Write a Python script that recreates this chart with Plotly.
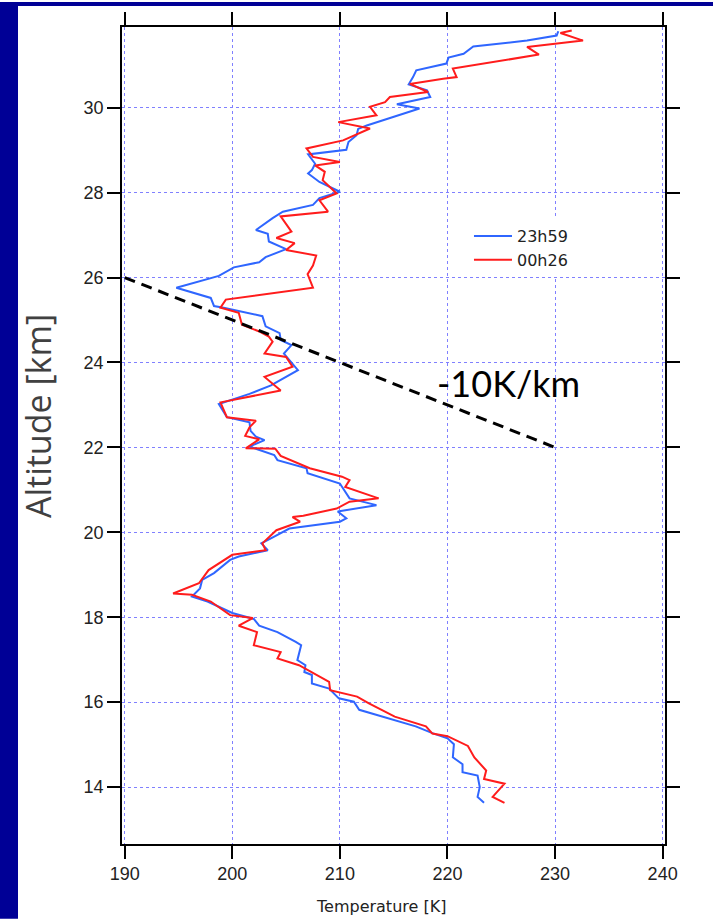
import plotly.graph_objects as go

# ---- data ----
blue_alt = [31.80, 31.70, 31.58, 31.44, 31.27, 31.18, 31.04, 30.88, 30.72, 30.55, 30.41, 30.25, 30.08, 29.98,
            29.58, 29.50, 29.35, 29.19, 29.01, 28.90, 28.68, 28.53, 28.45, 28.25, 28.02, 27.87, 27.71, 27.55,
            27.40, 27.12, 27.03, 26.85, 26.67, 26.48, 26.36, 26.24, 26.04, 25.76, 25.52, 25.33, 25.29, 25.09,
            24.85, 24.69, 24.53, 24.41, 24.21, 23.82, 23.46, 23.26, 23.02, 22.71, 22.59, 22.39, 22.25, 22.17,
            22.02, 21.82, 21.70, 21.51, 21.39, 21.15, 20.80, 20.64, 20.49, 20.33, 20.25, 20.09, 19.90, 19.74,
            19.58, 19.43, 19.35, 19.04, 18.88, 18.68, 18.49, 18.37, 18.10, 17.96, 17.80, 17.65, 17.42, 17.34,
            16.99, 16.87, 16.71, 16.64, 16.44, 16.32, 16.09, 16.01, 15.82, 15.66, 15.43, 15.27, 15.15, 15.01,
            14.70, 14.54, 14.35, 14.27, 14.00, 13.77, 13.63]
blue_temp = [230.3, 230.15, 227.4, 222.4, 221.5, 220.1, 219.9, 217.1, 216.8, 216.4, 218.1, 218.4, 215.3, 217.4,
             212.5, 211.7, 211.55, 210.8, 210.6, 207.05, 207.7, 207.4, 207.05, 208.1, 210.0, 208.1, 207.5, 204.7,
             203.75, 202.2, 203.3, 203.4, 205.0, 203.1, 202.5, 200.15, 198.75, 194.8, 198.0, 198.3, 199.2, 202.8,
             203.1, 204.4, 204.5, 205.5, 204.8, 206.1, 203.6, 201.6, 198.75, 199.5, 201.6, 201.7, 202.2, 203.0,
             201.6, 203.9, 204.2, 206.9, 207.0, 210.0, 210.9, 213.4, 209.8, 210.6, 210.0, 205.3, 203.9, 202.7,
             203.3, 200.6, 199.8, 198.3, 197.2, 197.0, 196.25, 197.7, 200.0, 202.0, 202.5, 204.2, 205.9, 206.4,
             206.05, 206.8, 206.7, 207.4, 207.4, 209.0, 209.9, 211.3, 211.8, 214.0, 217.05, 218.6, 220.0, 220.6,
             220.5, 221.4, 221.4, 222.8, 223.0, 222.8, 223.4]

red_alt = [31.82, 31.76, 31.58, 31.43, 31.25, 30.92, 30.72, 30.68, 30.56, 30.37, 30.25, 30.13, 30.02, 29.82,
           29.66, 29.51, 29.23, 29.04, 28.84, 28.72, 28.64, 28.49, 28.29, 28.05, 27.98, 27.82, 27.55, 27.44,
           27.08, 26.93, 26.81, 26.65, 26.52, 26.28, 26.08, 25.76, 25.48, 25.29, 25.17, 24.89, 24.73, 24.61,
           24.49, 24.21, 24.13, 23.90, 23.66, 23.34, 23.06, 22.71, 22.63, 22.47, 22.27, 22.19, 21.98, 21.97,
           21.80, 21.51, 21.31, 21.23, 21.07, 20.80, 20.72, 20.56, 20.39, 20.36, 20.25, 20.05, 19.74, 19.58,
           19.47, 19.11, 18.80, 18.56, 18.53, 18.37, 18.05, 17.98, 17.80, 17.65, 17.34, 17.18, 17.03, 16.87,
           16.48, 16.28, 16.13, 15.97, 15.66, 15.43, 15.26, 15.20, 15.11, 14.97, 14.70, 14.39, 14.19, 14.08,
           13.77, 13.63]
red_temp = [231.55, 230.5, 232.6, 227.4, 228.5, 220.5, 220.85, 219.6, 216.5, 218.2, 214.65, 214.2, 212.8, 213.4,
            209.85, 212.8, 210.3, 206.9, 207.5, 210.0, 207.7, 208.6, 208.4, 209.4, 209.7, 208.1, 208.9, 204.5,
            205.5, 204.1, 205.8, 205.0, 207.8, 207.5, 207.0, 207.5, 199.4, 198.9, 200.6, 200.9, 202.5, 203.4,
            203.75, 203.0, 205.0, 205.6, 203.0, 204.5, 198.9, 199.5, 202.2, 201.6, 201.2, 202.5, 201.25, 204.0,
            204.5, 207.2, 210.2, 210.9, 210.5, 213.6, 210.9, 209.7, 206.6, 205.6, 206.3, 204.1, 202.8, 203.1,
            200.0, 197.8, 196.9, 194.5, 196.25, 198.0, 199.8, 201.9, 200.6, 202.3, 202.0, 204.5, 204.2, 206.2,
            209.0, 209.1, 211.6, 212.7, 215.1, 218.0, 218.6, 220.0, 220.8, 221.9, 222.5, 223.6, 223.4, 225.3,
            224.2, 225.3]

lapse_temp = [190, 230]
lapse_alt = [26, 22]

x_ticks = [190, 200, 210, 220, 230, 240]
y_ticks = [14, 16, 18, 20, 22, 24, 26, 28, 30]

series_names = ["23h59", "00h26"]

fig = go.Figure()
fig.add_trace(go.Scatter(x=blue_temp, y=blue_alt, mode="lines", name=series_names[0],
                         line=dict(color="#2f66ff", width=2)))
fig.add_trace(go.Scatter(x=red_temp, y=red_alt, mode="lines", name=series_names[1],
                         line=dict(color="#ff1c1c", width=2)))
fig.add_trace(go.Scatter(x=lapse_temp, y=lapse_alt, mode="lines", showlegend=False,
                         line=dict(color="black", width=3, dash="11px,7px")))

fig.add_annotation(x=225.7, y=23.52, xref="x", yref="y", text="-10K/km", showarrow=False,
                   font=dict(family="Lato", size=36, color="black"))

# axis titles
fig.add_annotation(x=(381 - 122) / 543, y=-(907 - 844) / 819, xref="paper", yref="paper",
                   text="Temperature [K]", showarrow=False, xanchor="center", yanchor="middle",
                   font=dict(family="DejaVu Sans", size=16, color="#222"))
fig.add_annotation(x=(38 - 122) / 543, y=1 - (415 - 25) / 819, xref="paper", yref="paper",
                   text="Altitude [km]", showarrow=False, textangle=-90, xanchor="center", yanchor="middle",
                   font=dict(family="Open Sans", size=34, color="#404040"))

axis_common = dict(showline=True, linecolor="black", linewidth=1.5, mirror="allticks",
                   ticks="outside", ticklen=13, tickwidth=1.5, tickcolor="black",
                   showgrid=True, gridcolor="#8080ff", griddash="dot", gridwidth=1,
                   zeroline=False,
                   tickfont=dict(family="Liberation Sans", size=18, color="#222"))

fig.update_xaxes(range=[189.75, 240.22], tickvals=x_ticks, **axis_common)
fig.update_yaxes(range=[12.66, 31.90], tickvals=y_ticks, **axis_common)

# navy slide background strips
fig.add_shape(type="rect", xref="paper", yref="paper", x0=-122/543, x1=(18-122)/543, y0=-75/819, y1=1+25/819,
              fillcolor="#000096", line_width=0, layer="below")
fig.add_shape(type="rect", xref="paper", yref="paper", x0=-122/543, x1=1+48/543, y0=1+21/819, y1=1+25/819,
              fillcolor="#000096", line_width=0, layer="below")

fig.update_layout(
    width=713, height=919,
    margin=dict(l=122, r=48, t=25, b=75),
    paper_bgcolor="white", plot_bgcolor="white",
    showlegend=True,
    legend=dict(x=0.639, y=0.765, xanchor="left", yanchor="top", bgcolor="white",
                font=dict(family="DejaVu Sans", size=16, color="#222"),
                itemwidth=38, tracegroupgap=0),
)

fig.write_html("out.html")
